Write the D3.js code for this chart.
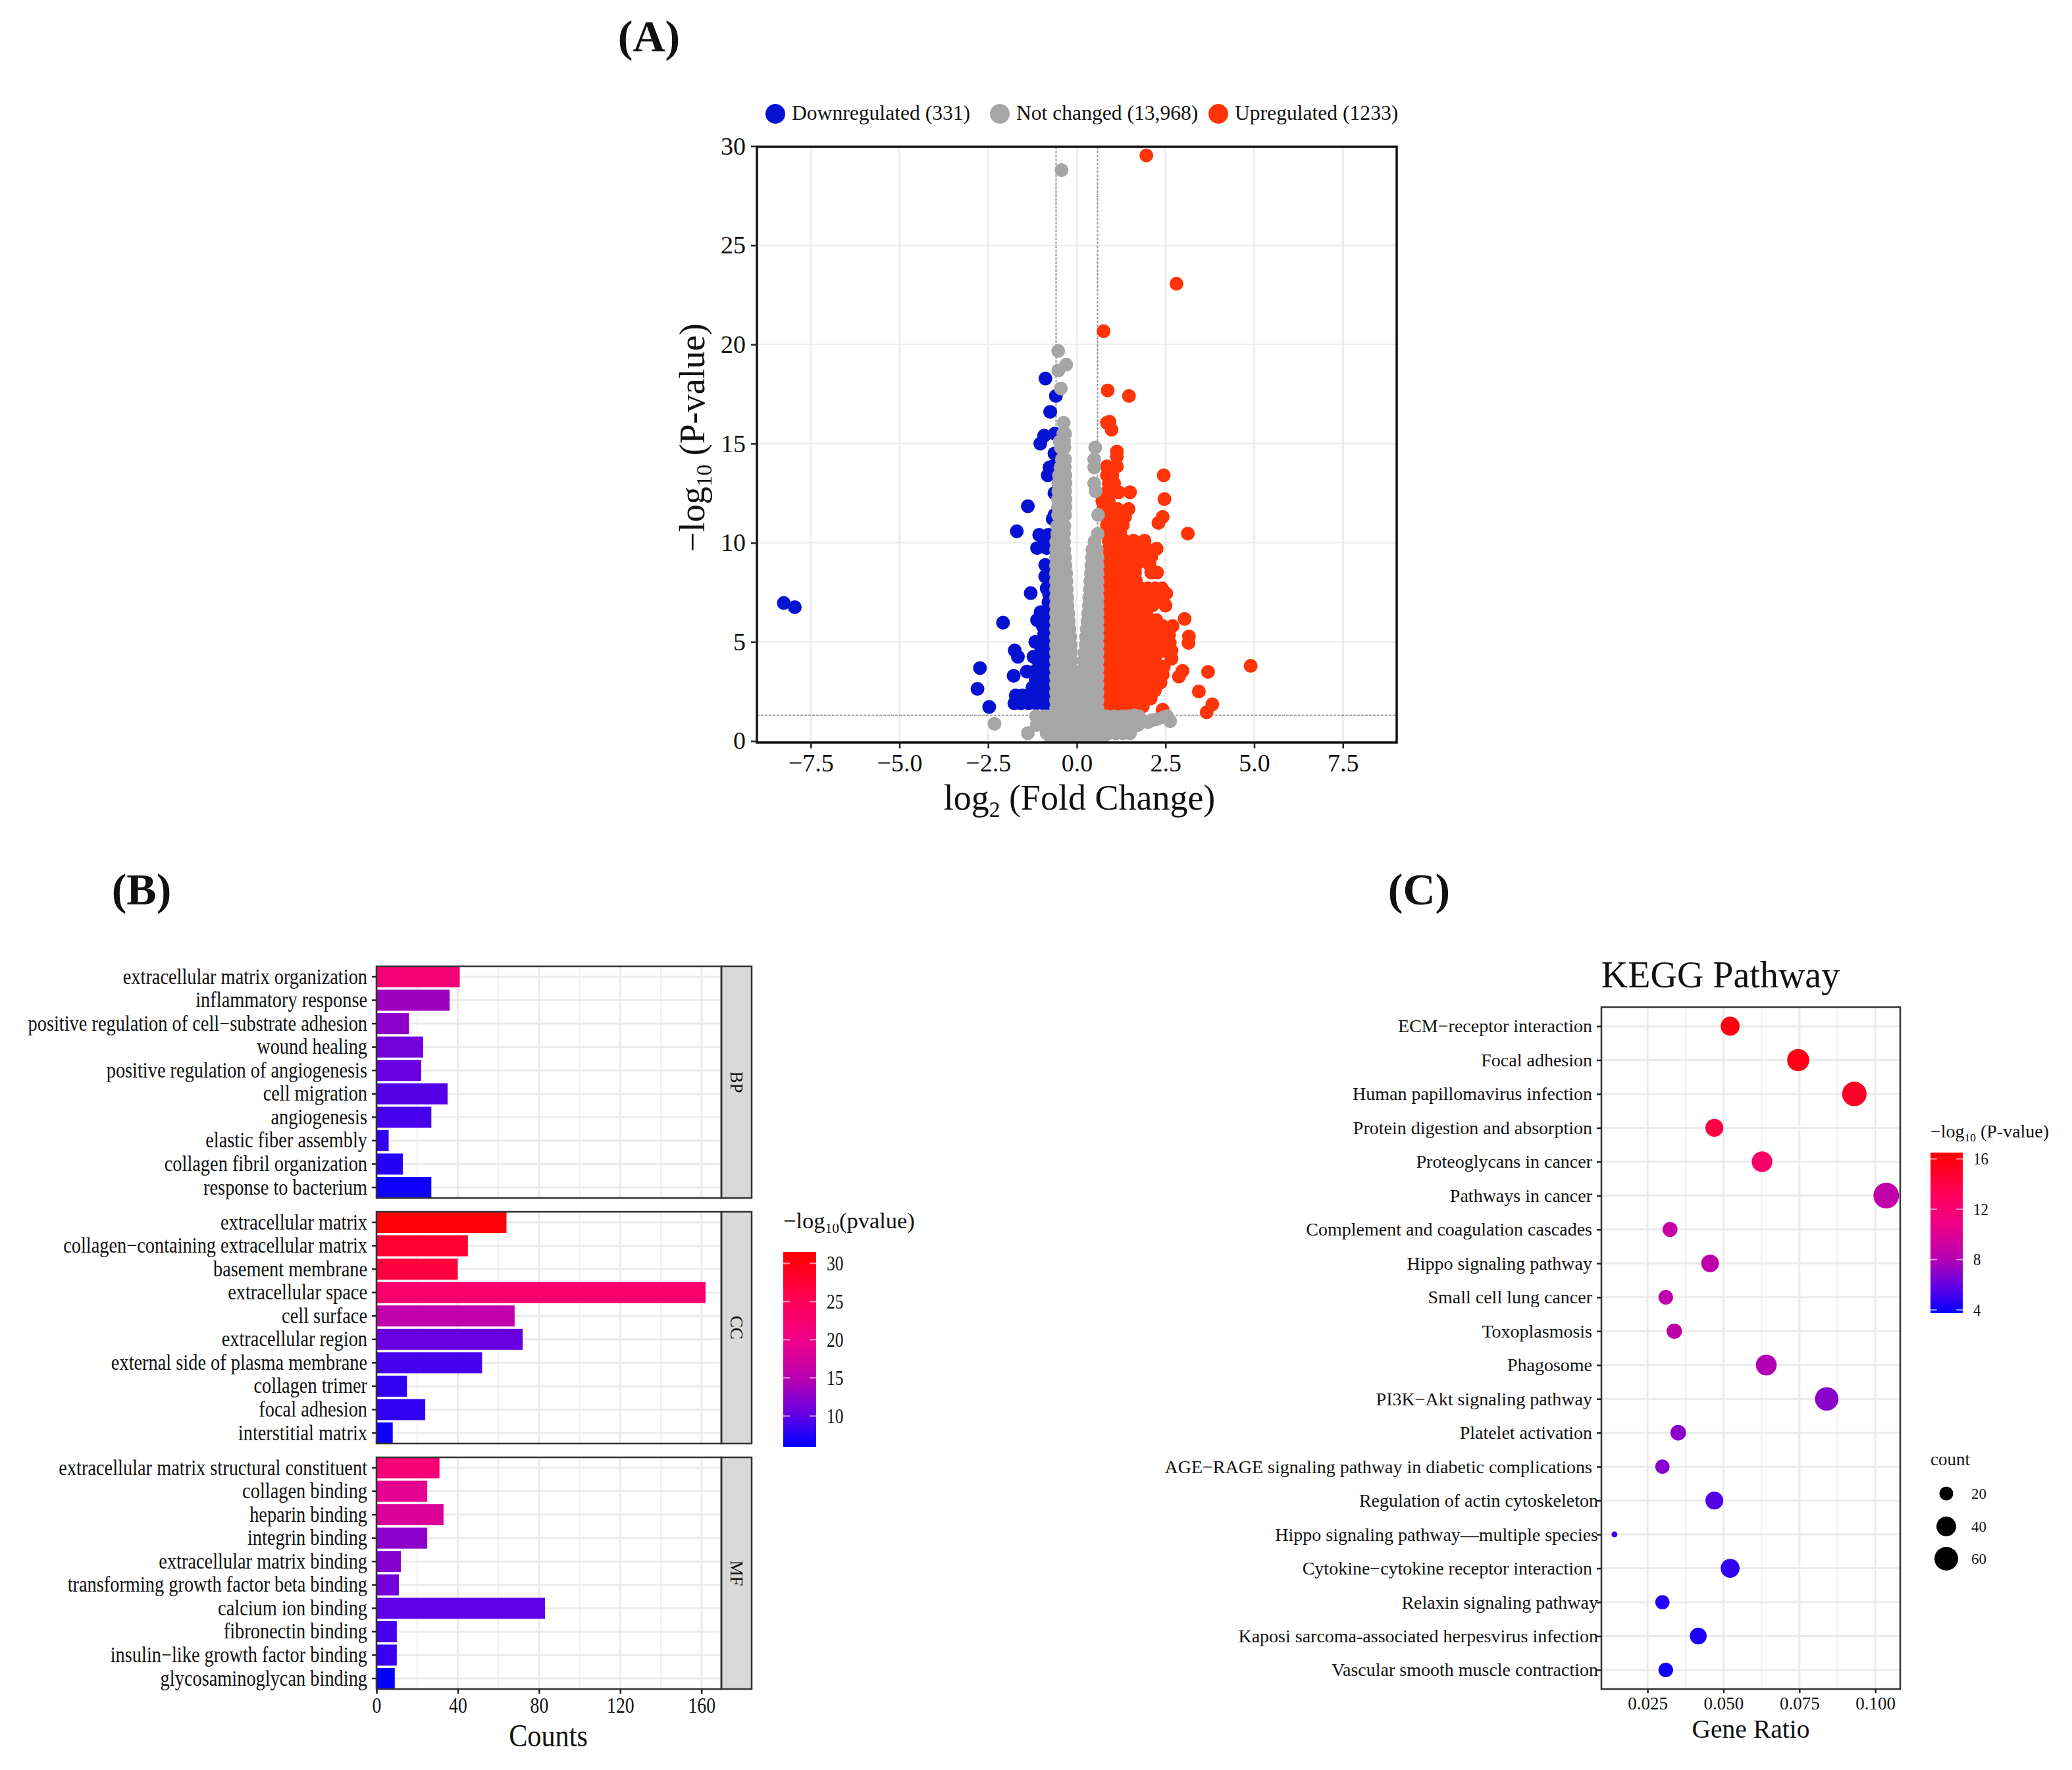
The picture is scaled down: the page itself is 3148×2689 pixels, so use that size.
<!DOCTYPE html>
<html>
<head>
<meta charset="utf-8" />
<title>Volcano, GO and KEGG</title>
<script src="https://d3js.org/d3.v7.min.js"></script>
<style>
  body { margin: 0; background: #fff; }
  svg { display: block; }
  svg text { font-family: "Liberation Serif", serif; fill: #111; }
</style>
</head>
<body>
<svg id="fig" width="3148" height="2689"></svg>
<script>
const downRows = [
  [1.9, -1.76, -1.58, -1.36, -1.15, -.95, -.78],
  [2.3, -1.72, -1.53, -1.33, -1.12, -.93, -.78],
  [2.7, -1.25, -1.1, -.92, -.78],
  [3.1, -1.16, -.95, -.78],
  [3.5, -1.41, -1.2, -1, -.8],
  [3.9, -1.06, -.86],
  [4.25, -1.22, -1.04, -.84],
  [4.65, -1, -.82],
  [5.0, -1.17, -.98, -.8],
  [5.4, -.92, -.78],
  [5.8, -.96, -.8],
  [6.1, -1.12, -.95, -.8],
  [6.5, -1.02, -.85],
  [7.0, -.8], [7.4, -.78], [7.7, -.85], [8.3, -.89], [8.88, -.89], [8.5, -.8],
  [9.73, -1.12, -.85], [10.05, -.9, -.78], [10.4, -1.06, -.8]
];
const downOutliers = [
  [-8.26, 6.96], [-7.95, 6.75], [-2.08, 5.97], [-1.3, 7.46], [-1.75, 4.57], [-1.66, 4.25],
  [-2.73, 3.68], [-2.8, 2.63], [-2.47, 1.72], [-1.78, 3.29], [-1.69, 10.58], [-1.38, 11.84],
  [-.885, 18.28], [-.59, 17.4], [-.75, 16.6], [-.92, 15.4], [-1.03, 15], [-.62, 15.5], [-.63, 14.5],
  [-.77, 13.8], [-.82, 13.4], [-.63, 13.9], [-.63, 12.5], [-.63, 11.4], [-.68, 11.2]
];
const upRows = [
  [1.75, .9, 1.12, 1.34, 1.56, 1.78, 1.86],
  [2.15, .9, 1.12, 1.34, 1.56, 1.78, 2, 2.08],
  [2.55, .9, 1.12, 1.34, 1.56, 1.78, 2, 2.2],
  [2.95, .9, 1.12, 1.34, 1.56, 1.78, 2, 2.2, 2.36],
  [3.35, .9, 1.12, 1.34, 1.56, 1.78, 2, 2.2, 2.42],
  [3.75, .9, 1.12, 1.34, 1.56, 1.78, 2, 2.2, 2.45],
  [4.15, .9, 1.12, 1.34, 1.56, 1.78, 2, 2.2, 2.67],
  [4.55, .9, 1.12, 1.34, 1.56, 1.78, 2, 2.22, 2.44, 2.67],
  [4.95, .9, 1.12, 1.34, 1.56, 1.78, 2, 2.22, 2.44, 2.62],
  [5.35, .9, 1.12, 1.34, 1.56, 1.78, 2, 2.22, 2.44, 2.6],
  [5.8, .9, 1.12, 1.34, 1.56, 1.78, 2, 2.2, 2.42, 2.7],
  [6.1, .9, 1.12, 1.34, 1.56, 1.78, 2, 2.24],
  [6.5, .9, 1.12, 1.34, 1.56, 1.78, 1.96],
  [6.85, .9, 1.12, 1.34, 1.56, 1.78, 1.92, 2.14],
  [7.3, .9, 1.12, 1.34, 1.56, 1.78, 2, 2.3],
  [7.7, .9, 1.12, 1.34, 1.56, 1.8, 2, 2.2, 2.4],
  [8.1, .9, 1.12, 1.34, 1.56, 1.66],
  [8.5, .9, 1.12, 1.34, 1.56, 1.64, 2.1, 2.26],
  [8.9, .9, 1.12, 1.34, 1.56, 1.68, 2.05],
  [9.3, .9, 1.12, 1.34, 1.55, 1.76, 2.1],
  [9.7, .9, 1.12, 1.34, 1.55, 1.76, 1.96, 2.25],
  [10.1, .9, 1.12, 1.34, 1.6, 1.91],
  [10.5, .85, 1.05, 1.22],
  [10.9, .85, 1.08, 1.3],
  [11.3, .85, 1.1, 1.36],
  [11.7, .75, .95, 1.15, 1.46],
  [12.1, .72, .9],
  [12.55, .85, 1.18, 1.5],
  [13, .9, 1.05],
  [13.4, .85, 1],
  [13.85, .85, 1.13]
];
const upOutliers = [
  [1.96, 29.53], [2.81, 23.06], [.755, 20.67], [.87, 17.68], [1.47, 17.4], [.85, 16.05], [.92, 16.1], [.98, 15.7],
  [1.13, 14.6], [1.13, 14.35], [2.45, 13.4], [2.47, 12.2], [2.42, 11.3], [2.3, 11], [3.13, 10.46], [2.52, 7.44], [2.5, 6.83],
  [3.04, 6.16], [3.16, 5.27], [3.15, 4.95], [2.98, 3.54], [2.88, 3.25], [3.7, 3.49], [3.44, 2.5],
  [3.82, 1.85], [3.66, 1.45], [4.9, 3.79], [2.42, 1.58]
];
const grayRows = [
  [.1, -.72, -.5, -.28, -.06, .16, .38, .6, .72],
  [.4, -1.38, -.85, -.65, -.43, -.21, .01, .23, .45, .67, .89, 1.1, 1.3, 1.5],
  [.8, -1.13, -.92, -.7, -.48, -.26, -.04, .18, .4, .62, .84, 1.06, 1.28, 1.5, 1.72],
  [1.25, -1.15, -.92, -.7, -.48, -.26, -.04, .18, .4, .62, .84, 1.06, 1.28, 1.45, 1.75],
  [1.65, -.585, -.36, -.14, .08, .3, .585],
  [2.05, -.585, -.36, -.14, .08, .3, .585],
  [2.45, -.585, -.36, -.14, .08, .3, .585],
  [2.85, -.585, -.36, -.14, .08, .3, .585],
  [3.25, -.585, -.36, -.14, .08, .3, .585],
  [3.65, -.585, -.38, -.17, .19, .4, .585],
  [4.05, -.585, -.38, -.16, .2, .4, .585],
  [4.45, -.585, -.38, -.17, .22, .4, .585],
  [4.85, -.585, -.38, -.17, .25, .42, .585],
  [5.25, -.585, -.38, -.19, .26, .42, .585],
  [5.65, -.585, -.38, -.21, .28, .42, .585],
  [6.05, -.585, -.4, -.23, .3, .44, .585],
  [6.45, -.585, -.4, -.24, .32, .44, .585],
  [6.85, -.585, -.42, -.26, .34, .46, .585],
  [7.25, -.585, -.42, -.27, .35, .46, .585],
  [7.65, -.585, -.44, -.28, .37, .48, .585],
  [8.05, -.585, -.44, -.29, .38, .48, .585],
  [8.45, -.585, -.44, -.3, .4, .5, .585],
  [8.85, -.585, -.46, -.32, .41, .5, .585],
  [9.25, -.585, -.46, -.33, .43, .52, .585],
  [9.65, -.585, -.48, -.35, .44, .56],
  [10.05, -.58, -.46, -.36, .5],
  [10.45, -.55, -.36, .59],
  [10.85, -.55, -.35],
  [11.4, -.53, -.33, .6],
  [11.8, -.53, -.32],
  [12.2, -.53, -.32],
  [12.6, -.52, -.33, .53],
  [13, -.52, -.32, .49],
  [13.4, -.5, -.32],
  [13.8, -.46, -.34, .49],
  [14.2, -.42, -.33, .49],
  [14.8, -.45, -.35, .52],
  [15.1, -.48, -.36], [15.5, -.38, -.33], [16.05, -.37]
];
const grayOutliers = [
  [-.43, 28.79], [-.525, 19.67], [-.3, 18.98], [-.52, 18.69], [-.45, 17.78], [-2.32, .87], [2, .95],
  [2.12, 1.05], [2.25, 1.1], [2.45, 1.2], [2.55, 1.25], [2.63, 1], [1.62, 1.3], [1.75, .9]
];
const volcanoLegend = ["Downregulated (331)", "Not changed (13,968)", "Upregulated (1233)"];
const foldTicks = [-7.5, -5, -2.5, 0, 2.5, 5, 7.5];
const pTicks = [0, 5, 10, 15, 20, 25, 30];

// (B) GO bars
const facetNames = ["BP", "CC", "MF"];
const goTerms = [
  ["extracellular matrix organization", "inflammatory response", "positive regulation of cell\u2212substrate adhesion", "wound healing", "positive regulation of angiogenesis", "cell migration", "angiogenesis", "elastic fiber assembly", "collagen fibril organization", "response to bacterium"],
  ["extracellular matrix", "collagen\u2212containing extracellular matrix", "basement membrane", "extracellular space", "cell surface", "extracellular region", "external side of plasma membrane", "collagen trimer", "focal adhesion", "interstitial matrix"],
  ["extracellular matrix structural constituent", "collagen binding", "heparin binding", "integrin binding", "extracellular matrix binding", "transforming growth factor beta binding", "calcium ion binding", "fibronectin binding", "insulin\u2212like growth factor binding", "glycosaminoglycan binding"]
];
const goCounts = [
  [41, 36, 16, 23, 22, 35, 27, 6, 13, 27],
  [64, 45, 40, 162, 68, 72, 52, 15, 24, 8],
  [31, 25, 33, 25, 12, 11, 83, 10, 10, 9]
];
const goLogP = [
  [22, 13.5, 12.5, 11, 10.5, 9.5, 9, 8, 7.5, 6.6],
  [31, 28, 27, 23, 15.5, 10.5, 9, 8, 8, 6.5],
  [22, 19, 18, 12.5, 12, 11, 10, 9, 8.5, 6]
];
const countTicks = [0, 40, 80, 120, 160];
const goLegendTicks = [10, 15, 20, 25, 30];

// (C) KEGG dots
const keggTerms = ["ECM\u2212receptor interaction", "Focal adhesion", "Human papillomavirus infection", "Protein digestion and absorption", "Proteoglycans in cancer", "Pathways in cancer", "Complement and coagulation cascades", "Hippo signaling pathway", "Small cell lung cancer", "Toxoplasmosis", "Phagosome", "PI3K\u2212Akt signaling pathway", "Platelet activation", "AGE\u2212RAGE signaling pathway in diabetic complications", "Regulation of actin cytoskeleton", "Hippo signaling pathway\u2014multiple species", "Cytokine\u2212cytokine receptor interaction", "Relaxin signaling pathway", "Kaposi sarcoma-associated herpesvirus infection", "Vascular smooth muscle contraction"];
const keggRatio = [.0522, .0746, .0931, .047, .0627, .1036, .0324, .0456, .031, .0338, .0641, .084, .0351, .0299, .047, .0141, .0522, .0299, .0417, .031];
const keggCount = [37, 52, 65, 33, 44, 72, 23, 32, 22, 24, 45, 59, 25, 21, 33, 10, 37, 21, 29, 22];
const keggLogP = [16, 15.7, 15, 14, 12.5, 8.6, 9, 8.5, 8.5, 8.5, 8, 7, 7, 6.8, 5.5, 5, 4.8, 4.5, 4.4, 4];
const ratioTicks = [.025, .05, .075, .1];
const keggLegendTicks = [4, 8, 12, 16];
const countLegend = [20, 40, 60];
// these labels run right up to their tick in the picture
const tightLabels = ["Regulation of actin cytoskeleton", "Hippo signaling pathway\u2014multiple species", "Relaxin signaling pathway", "Kaposi sarcoma-associated herpesvirus infection", "Vascular smooth muscle contraction"];

const svg = d3.select("#fig");
// colours sampled from the two colour bars
const lowHigh = d3.scaleLinear()
  .domain([0, .16, .35, .55, .75, 1])
  .range(["#0000ff", "#6000e6", "#b800b0", "#f00088", "#ff0058", "#ff0000"]);

function rowsToPoints(rows) {
  return rows.flatMap(r => r.slice(1).map(x => [x, r[0]]));
}

// text with a small lowered part, e.g. log10
function labelWithSub(g, attrs, before, sub, after, subRatio) {
  let t = g.append("text");
  Object.keys(attrs).forEach(k => t.attr(k, attrs[k]));
  let size = attrs["font-size"];
  t.append("tspan").text(before);
  t.append("tspan").attr("font-size", size * subRatio).attr("dy", size * 0.2).text(sub);
  t.append("tspan").attr("dy", -size * 0.2).text(after);
  return t;
}

function styleAxis(g, size, color) {
  g.select(".domain").remove();
  g.selectAll(".tick line").attr("stroke", color || "#222").attr("stroke-width", 2.5);
  g.selectAll(".tick text").attr("font-size", size).attr("font-family", '"Liberation Serif", serif').attr("fill", "#111");
}

// panel B was squeezed sideways in the source figure
function squeezeText(g, k) {
  g.selectAll(".tick text").each(function () {
    let t = d3.select(this);
    t.attr("x", (+t.attr("x") || 0) / k).attr("transform", "scale(" + k + ",1)");
  });
}

function colorBar(id, x0, y0, w, h, domain, ticks, labelSize, labelK) {
  let grad = svg.append("defs").append("linearGradient").attr("id", id)
    .attr("x1", 0).attr("y1", 1).attr("x2", 0).attr("y2", 0);
  d3.range(0, 1.001, 0.05).forEach(t => grad.append("stop").attr("offset", t).attr("stop-color", lowHigh(t)));
  svg.append("rect").attr("x", x0).attr("y", y0).attr("width", w).attr("height", h).attr("fill", "url(#" + id + ")");
  let y = d3.scaleLinear().domain(domain).range([y0 + h, y0]);
  ticks.forEach(v => {
    svg.append("line").attr("x1", x0).attr("x2", x0 + w * 0.2).attr("y1", y(v)).attr("y2", y(v)).attr("stroke", "#fff").attr("stroke-opacity", .6).attr("stroke-width", 2);
    svg.append("line").attr("x1", x0 + w * 0.8).attr("x2", x0 + w).attr("y1", y(v)).attr("y2", y(v)).attr("stroke", "#fff").attr("stroke-opacity", .6).attr("stroke-width", 2);
    svg.append("text").attr("transform", "translate(" + (x0 + w + 16) + "," + y(v) + ") scale(" + labelK + ",1)")
      .attr("dy", "0.35em").attr("font-size", labelSize).text(v);
  });
}

/* ---------- panel A ---------- */
const aLeft = 1150, aRight = 2122, aTop = 223, aBottom = 1128;
const xFold = d3.scaleLinear().domain([-9.017, 9.017]).range([aLeft, aRight]);
const yP = d3.scaleLinear().domain([0, 30]).range([1125.8, 222]);
const downColor = "#0612d2", grayColor = "#a6a6a6", upColor = "#ff3408";

svg.append("text").attr("x", 986).attr("y", 78).attr("text-anchor", "middle").attr("font-size", 68).attr("font-weight", "bold").text("(A)");

const panelA = svg.append("g");
svg.append("defs").append("clipPath").attr("id", "clipA").append("rect")
  .attr("x", aLeft).attr("y", aTop).attr("width", aRight - aLeft).attr("height", aBottom - aTop);

panelA.selectAll(".gx").data(foldTicks).join("line").attr("x1", xFold).attr("x2", xFold)
  .attr("y1", aTop).attr("y2", aBottom).attr("stroke", "#eeeeee").attr("stroke-width", 3.5);
panelA.selectAll(".gy").data(pTicks).join("line").attr("y1", yP).attr("y2", yP)
  .attr("x1", aLeft).attr("x2", aRight).attr("stroke", "#ebebeb").attr("stroke-width", 2);

// cut-off lines sit under the points
[-0.585, 0.585].forEach(v => panelA.append("line").attr("x1", xFold(v)).attr("x2", xFold(v)).attr("y1", aTop).attr("y2", aBottom)
  .attr("stroke", "#999").attr("stroke-width", 2).attr("stroke-dasharray", "4 2"));
panelA.append("line").attr("x1", aLeft).attr("x2", aRight).attr("y1", yP(1.3)).attr("y2", yP(1.3))
  .attr("stroke", "#999").attr("stroke-width", 2).attr("stroke-dasharray", "4 2");

const volcanoSets = [
  { pts: rowsToPoints(downRows).concat(downOutliers), color: downColor },
  { pts: rowsToPoints(upRows).concat(upOutliers), color: upColor },
  { pts: rowsToPoints(grayRows).concat(grayOutliers), color: grayColor }
];
const dots = panelA.append("g").attr("clip-path", "url(#clipA)");
volcanoSets.forEach(s => {
  dots.append("g").selectAll("circle").data(s.pts).join("circle")
    .attr("cx", d => xFold(d[0])).attr("cy", d => yP(d[1])).attr("r", 10.5).attr("fill", s.color);
});

panelA.append("rect").attr("x", aLeft).attr("y", aTop).attr("width", aRight - aLeft).attr("height", aBottom - aTop)
  .attr("fill", "none").attr("stroke", "#111").attr("stroke-width", 3.5);

panelA.append("g").attr("transform", "translate(0," + aBottom + ")")
  .call(d3.axisBottom(xFold).tickValues(foldTicks).tickFormat(d3.format(".1f")).tickSize(9).tickPadding(8))
  .call(styleAxis, 38);
panelA.append("g").attr("transform", "translate(" + aLeft + ",0)")
  .call(d3.axisLeft(yP).tickValues(pTicks).tickSize(9).tickPadding(8))
  .call(styleAxis, 38);

labelWithSub(panelA, { x: 1640, y: 1230, "text-anchor": "middle", "font-size": 54 }, "log", "2", " (Fold Change)", 0.62);
labelWithSub(panelA, { transform: "translate(1070,665) rotate(-90)", "text-anchor": "middle", "font-size": 54 }, "\u2212log", "10", " (P-value)", 0.62);

const legendX = [1178, 1519, 1851];
const legendColors = [downColor, grayColor, upColor];
volcanoLegend.forEach((t, i) => {
  svg.append("circle").attr("cx", legendX[i]).attr("cy", 173).attr("r", 15).attr("fill", legendColors[i]);
  svg.append("text").attr("x", legendX[i] + 25).attr("y", 172).attr("dy", "0.33em").attr("font-size", 31.6).text(t);
});

/* ---------- panel B ---------- */
svg.append("text").attr("x", 215).attr("y", 1374).attr("text-anchor", "middle").attr("font-size", 68).attr("font-weight", "bold").text("(B)");

const bLeft = 572, bRight = 1096, stripRight = 1142;
const facetTop = [1468, 1841, 2214], facetH = 352;
const xCount = d3.scaleLinear().domain([0, 169.8]).range([bLeft, bRight]);
const goColor = d3.scaleLinear().domain([5.97, 31.5]).range([0, 1]);
const countMinor = [20, 60, 100, 140];

facetNames.forEach((name, i) => {
  let top = facetTop[i];
  let g = svg.append("g");
  let yTerm = d3.scaleBand().domain(goTerms[i]).range([top, top + facetH]).paddingInner(0.1).paddingOuter(0);
  let rows = goTerms[i].map((t, j) => ({ term: t, count: goCounts[i][j], p: goLogP[i][j] }));

  g.selectAll(".minor").data(countMinor).join("line").attr("x1", xCount).attr("x2", xCount)
    .attr("y1", top).attr("y2", top + facetH).attr("stroke", "#f0f0f0").attr("stroke-width", 2);
  g.selectAll(".major").data(countTicks).join("line").attr("x1", xCount).attr("x2", xCount)
    .attr("y1", top).attr("y2", top + facetH).attr("stroke", "#ebebeb").attr("stroke-width", 3);
  g.selectAll(".row").data(goTerms[i]).join("line")
    .attr("y1", d => yTerm(d) + yTerm.bandwidth() / 2).attr("y2", d => yTerm(d) + yTerm.bandwidth() / 2)
    .attr("x1", bLeft).attr("x2", bRight).attr("stroke", "#ebebeb").attr("stroke-width", 3);

  g.selectAll(".bar").data(rows).join("rect")
    .attr("x", bLeft).attr("y", d => yTerm(d.term)).attr("height", yTerm.bandwidth())
    .attr("width", d => xCount(d.count) - bLeft).attr("fill", d => lowHigh(goColor(d.p)));

  g.append("rect").attr("x", bRight).attr("y", top).attr("width", stripRight - bRight).attr("height", facetH)
    .attr("fill", "#d9d9d9").attr("stroke", "#333").attr("stroke-width", 2.5);
  g.append("rect").attr("x", bLeft).attr("y", top).attr("width", bRight - bLeft).attr("height", facetH)
    .attr("fill", "none").attr("stroke", "#333").attr("stroke-width", 2.5);
  g.append("text").attr("transform", "translate(" + ((bRight + stripRight) / 2) + "," + (top + facetH / 2) + ") rotate(90)")
    .attr("text-anchor", "middle").attr("dy", "0.33em").attr("font-size", 27).text(name);

  g.append("g").attr("transform", "translate(" + bLeft + ",0)")
    .call(d3.axisLeft(yTerm).tickSize(7).tickPadding(7))
    .call(styleAxis, 33)
    .call(squeezeText, 0.86);
});

svg.append("g").attr("transform", "translate(0," + (facetTop[2] + facetH) + ")")
  .call(d3.axisBottom(xCount).tickValues(countTicks).tickSize(7).tickPadding(6))
  .call(styleAxis, 33)
  .call(squeezeText, 0.84);
svg.append("text").attr("transform", "translate(833,2653) scale(.88,1)").attr("text-anchor", "middle").attr("font-size", 48).text("Counts");

labelWithSub(svg, { x: 1190, y: 1866, "font-size": 34.5 }, "\u2212log", "10", "(pvalue)", 0.62);
colorBar("barB", 1190, 1902, 50, 296, [5.97, 31.5], goLegendTicks, 31, 0.82);

/* ---------- panel C ---------- */
svg.append("text").attr("x", 2156).attr("y", 1374).attr("text-anchor", "middle").attr("font-size", 68).attr("font-weight", "bold").text("(C)");

const cLeft = 2433, cRight = 2887, cTop = 1530, cBottom = 2566;
const xRatio = d3.scaleLinear().domain([.0098, .1082]).range([cLeft, cRight]);
const yKegg = d3.scalePoint().domain(keggTerms).range([1559, 2537]);
const keggColor = d3.scaleLinear().domain([3.74, 16.5]).range([0, 1]);
// ggplot style size: area grows from the smallest count, here shifted by 10
const dotRadius = d3.scaleSqrt().domain([0, 62]).range([4.5, 19.5]);
const ratioMinor = [.0375, .0625, .0875];

svg.append("text").attr("x", 2614).attr("y", 1500).attr("text-anchor", "middle").attr("font-size", 56).text("KEGG Pathway");

const panelC = svg.append("g");
panelC.selectAll(".minor").data(ratioMinor).join("line").attr("x1", xRatio).attr("x2", xRatio)
  .attr("y1", cTop).attr("y2", cBottom).attr("stroke", "#f0f0f0").attr("stroke-width", 2);
panelC.selectAll(".major").data(ratioTicks).join("line").attr("x1", xRatio).attr("x2", xRatio)
  .attr("y1", cTop).attr("y2", cBottom).attr("stroke", "#ebebeb").attr("stroke-width", 3);
panelC.selectAll(".row").data(keggTerms).join("line").attr("y1", yKegg).attr("y2", yKegg)
  .attr("x1", cLeft).attr("x2", cRight).attr("stroke", "#ebebeb").attr("stroke-width", 3);

panelC.selectAll("circle").data(keggTerms).join("circle")
  .attr("cx", (d, i) => xRatio(keggRatio[i])).attr("cy", d => yKegg(d))
  .attr("r", (d, i) => dotRadius(keggCount[i] - 10)).attr("fill", (d, i) => lowHigh(keggColor(keggLogP[i])));

panelC.append("rect").attr("x", cLeft).attr("y", cTop).attr("width", cRight - cLeft).attr("height", cBottom - cTop)
  .attr("fill", "none").attr("stroke", "#333").attr("stroke-width", 2.5);

panelC.append("g").attr("transform", "translate(" + cLeft + ",0)")
  .call(d3.axisLeft(yKegg).tickSize(7).tickPadding(7))
  .call(styleAxis, 28)
  .call(g => g.selectAll(".tick text").filter(d => tightLabels.includes(d)).attr("x", -5));
panelC.append("g").attr("transform", "translate(0," + cBottom + ")")
  .call(d3.axisBottom(xRatio).tickValues(ratioTicks).tickFormat(d3.format(".3f")).tickSize(6).tickPadding(6))
  .call(styleAxis, 27);
svg.append("text").attr("x", 2660).attr("y", 2640).attr("text-anchor", "middle").attr("font-size", 39.6).text("Gene Ratio");

labelWithSub(svg, { x: 2933, y: 1728, "font-size": 28 }, "\u2212log", "10", " (P-value)", 0.62);
colorBar("barC", 2933, 1751, 49, 244, [3.74, 16.5], keggLegendTicks, 25, 0.92);

svg.append("text").attr("x", 2933).attr("y", 2226).attr("font-size", 27).text("count");
const countLegendY = [2269, 2319, 2368];
countLegend.forEach((c, i) => {
  svg.append("circle").attr("cx", 2957).attr("cy", countLegendY[i]).attr("r", dotRadius(c - 10)).attr("fill", "#000");
  svg.append("text").attr("x", 2995).attr("y", countLegendY[i]).attr("dy", "0.33em").attr("font-size", 23).text(c);
});
</script>
</body>
</html>
